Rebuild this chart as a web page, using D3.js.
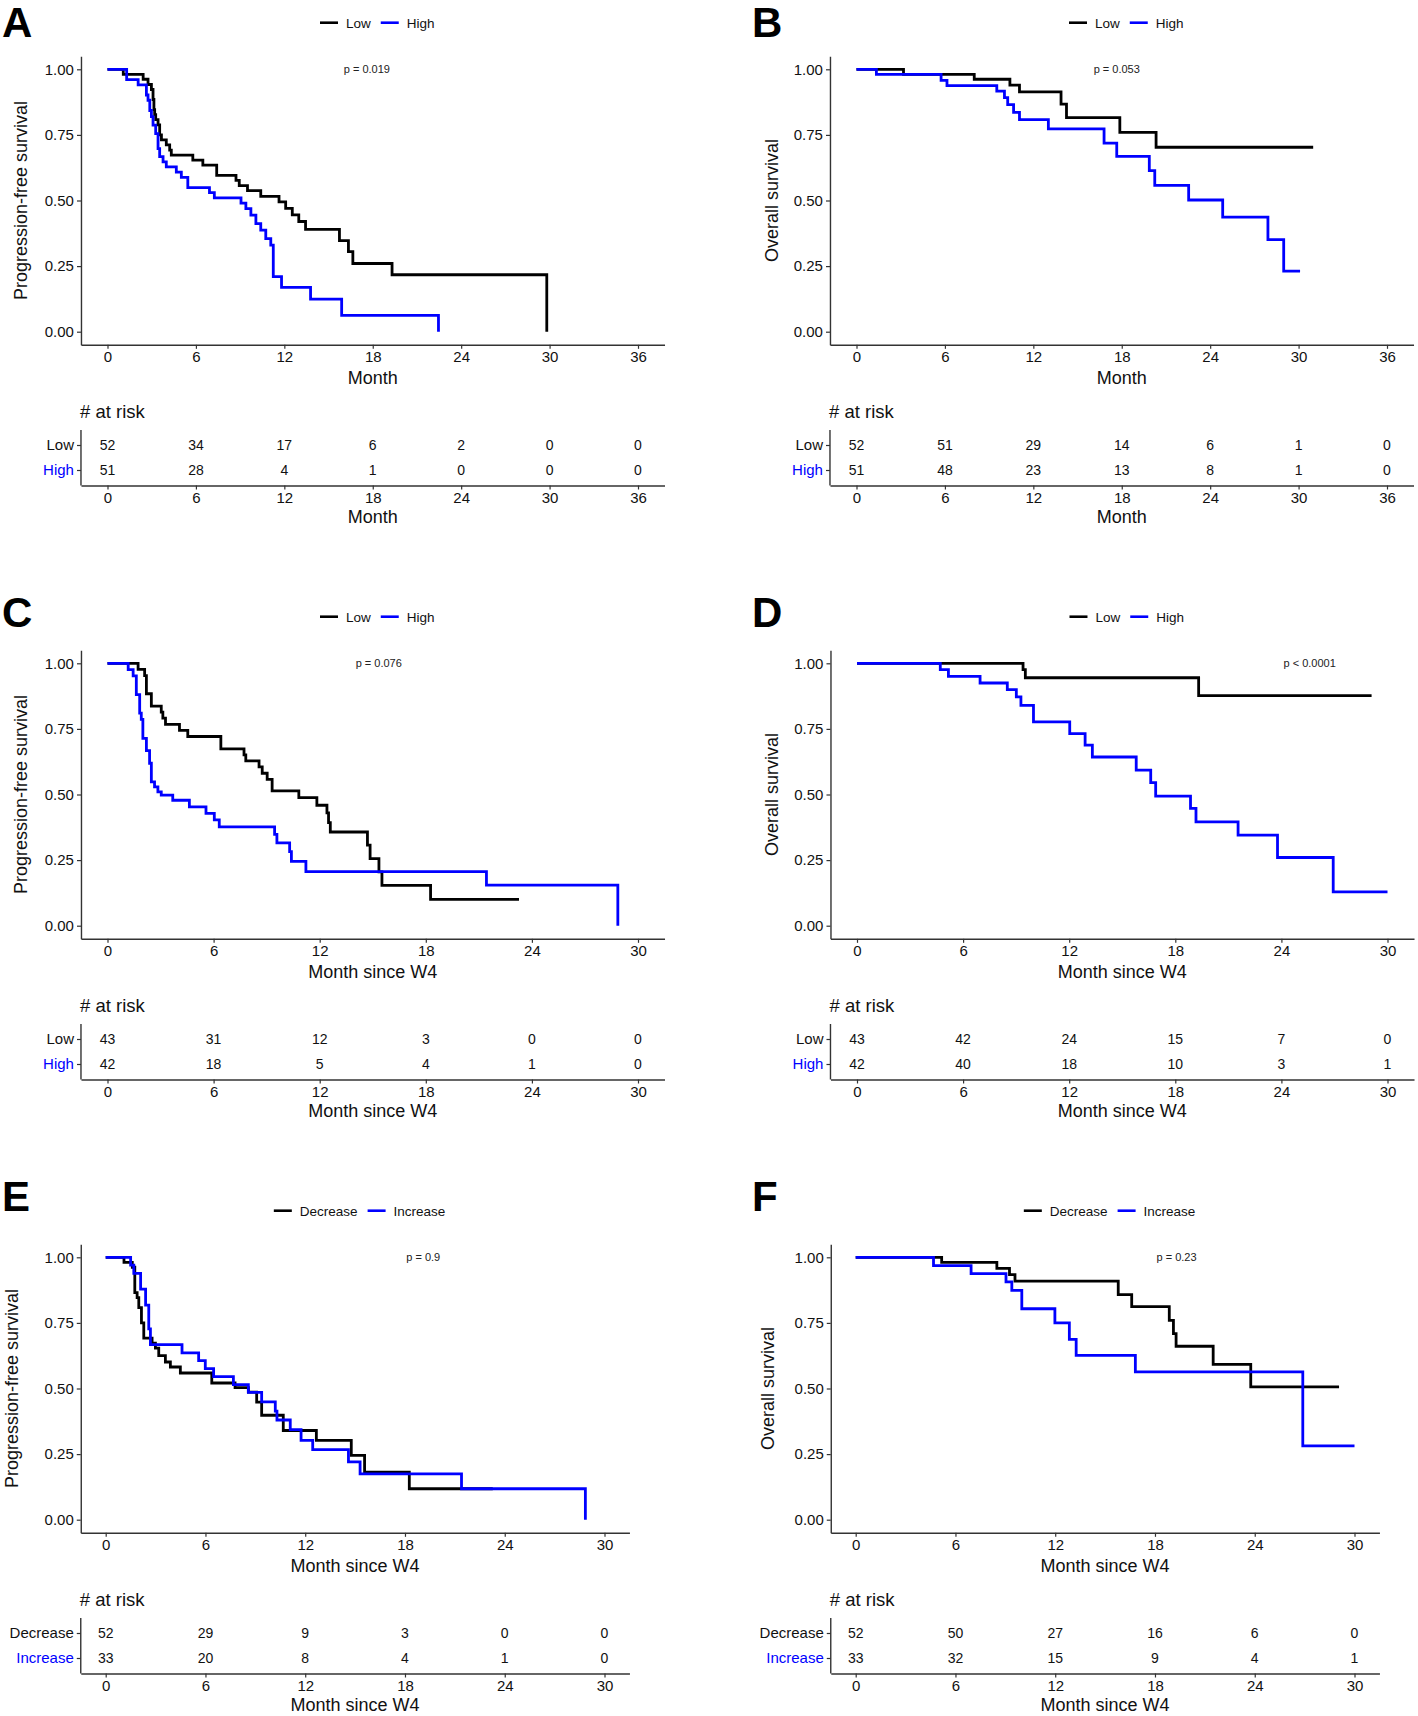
<!DOCTYPE html>
<html><head><meta charset="utf-8">
<script src="https://cdn.jsdelivr.net/npm/d3@7"></script>
<style>
body{margin:0;background:#fff}
svg{display:block}
text{font-family:"Liberation Sans",Arial,Helvetica,sans-serif}
</style>
</head><body>
<svg id="c" width="1418" height="1716"></svg>
<script>
// ---------- data ----------
const monthTicks36 = [0,6,12,18,24,30,36];
const monthTicks30 = [0,6,12,18,24,30];
const survTicks = [0,0.25,0.5,0.75,1];
const groupsLowHigh = ["Low","High"];
const groupsDecInc = ["Decrease","Increase"];
const panelLetters = ["A","B","C","D","E","F"];
const yTitles = ["Progression-free survival","Overall survival","Progression-free survival","Overall survival","Progression-free survival","Overall survival"];
const xTitles = ["Month","Month","Month since W4","Month since W4","Month since W4","Month since W4"];
const pValueLabels = ["p = 0.019","p = 0.053","p = 0.076","p < 0.0001","p = 0.9","p = 0.23"];
const pValueMonth = [17.6,17.66,15.34,25.6,19.1,19.3];

const pfsA_low = [[0,1],[1.07,0.981],[2.42,0.962],[2.75,0.942],[2.98,0.923],[3.09,0.885],[3.15,0.846],[3.2,0.827],[3.27,0.808],[3.43,0.788],[3.54,0.75],[3.66,0.731],[3.99,0.712],[4.22,0.692],[4.33,0.673],[5.79,0.654],[6.47,0.635],[7.41,0.596],[8.72,0.577],[8.94,0.557],[9.5,0.538],[10.4,0.516],[11.64,0.495],[12.09,0.47],[12.54,0.445],[12.98,0.42],[13.44,0.39],[15.74,0.347],[16.35,0.305],[16.65,0.26],[19.31,0.217],[29.81,0]];
const pfsA_high = [[0,1],[1.3,0.961],[2.08,0.941],[2.64,0.902],[2.75,0.882],[2.87,0.843],[2.98,0.82],[3.09,0.787],[3.27,0.755],[3.43,0.698],[3.54,0.667],[3.77,0.647],[3.99,0.628],[4.67,0.608],[5.01,0.588],[5.45,0.549],[6.92,0.53],[7.25,0.51],[9.06,0.49],[9.39,0.469],[9.73,0.444],[10.07,0.412],[10.4,0.387],[10.74,0.355],[11.08,0.33],[11.25,0.21],[11.81,0.169],[13.78,0.124],[15.89,0.062],[22.46,0]];

const osB_low = [[0,1],[3.19,0.981],[7.99,0.962],[10.41,0.94],[11.06,0.914],[13.88,0.867],[14.25,0.816],[17.87,0.76],[20.33,0.703],[30.99,0.703]];
const osB_high = [[0,1],[1.35,0.981],[5.74,0.958],[6.14,0.938],[9.52,0.917],[10.04,0.892],[10.26,0.865],[10.66,0.836],[11.06,0.808],[13.02,0.773],[16.8,0.719],[17.66,0.668],[19.87,0.614],[20.24,0.558],[22.54,0.502],[24.85,0.437],[27.92,0.351],[28.99,0.231],[30.1,0.231]];

const pfsC_low = [[0,1],[1.73,0.977],[2.1,0.953],[2.2,0.884],[2.48,0.837],[3.04,0.814],[3.13,0.791],[3.28,0.767],[4.07,0.744],[4.54,0.721],[6.41,0.674],[7.72,0.651],[7.82,0.628],[8.57,0.605],[8.75,0.581],[9.03,0.558],[9.31,0.514],[10.82,0.488],[11.84,0.459],[12.41,0.43],[12.5,0.393],[12.6,0.357],[14.7,0.307],[14.85,0.256],[15.35,0.205],[15.52,0.154],[18.27,0.1],[23.27,0.1]];
const pfsC_high = [[0,1],[1.17,0.976],[1.45,0.952],[1.63,0.881],[1.82,0.81],[1.91,0.786],[2.0,0.714],[2.2,0.667],[2.38,0.619],[2.48,0.548],[2.66,0.529],[2.85,0.51],[3.04,0.498],[3.69,0.478],[4.63,0.453],[5.57,0.428],[6.04,0.403],[6.32,0.377],[9.45,0.348],[9.58,0.316],[10.3,0.282],[10.4,0.245],[11.22,0.206],[21.43,0.155],[28.86,0]];

const osD_low = [[0,1],[9.39,0.976],[9.52,0.945],[19.32,0.877],[29.1,0.877]];
const osD_high = [[0,1],[4.71,0.976],[5.17,0.95],[6.96,0.925],[8.5,0.9],[9.01,0.872],[9.27,0.84],[9.98,0.777],[12.03,0.732],[12.9,0.688],[13.31,0.643],[15.79,0.593],[16.61,0.545],[16.89,0.494],[18.86,0.447],[19.17,0.396],[21.55,0.345],[23.78,0.26],[26.93,0.129],[30.0,0.129]];

const pfsE_dec = [[0,1],[1.1,0.981],[1.6,0.962],[1.75,0.865],[1.89,0.846],[1.99,0.808],[2.15,0.75],[2.29,0.692],[2.79,0.673],[2.99,0.654],[3.19,0.625],[3.59,0.601],[3.89,0.582],[4.49,0.559],[6.38,0.521],[7.78,0.503],[8.58,0.486],[9.08,0.448],[9.38,0.398],[10.68,0.34],[12.67,0.302],[14.77,0.245],[15.57,0.181],[18.26,0.118],[23.28,0.118]];
const pfsE_inc = [[0,1],[1.5,0.97],[1.69,0.939],[2.1,0.879],[2.4,0.818],[2.59,0.727],[2.69,0.667],[4.59,0.636],[5.59,0.606],[5.99,0.576],[6.49,0.545],[7.68,0.515],[8.58,0.485],[9.38,0.449],[10.2,0.414],[10.3,0.38],[11.1,0.343],[11.75,0.302],[12.45,0.267],[14.6,0.22],[15.3,0.175],[21.4,0.118],[28.85,0]];

const osF_dec = [[0,1],[5.17,0.981],[8.49,0.958],[9.25,0.934],[9.58,0.909],[15.79,0.858],[16.6,0.812],[18.86,0.76],[19.11,0.709],[19.27,0.661],[21.5,0.592],[23.76,0.506],[29.07,0.506]];
const osF_inc = [[0,1],[4.68,0.968],[6.94,0.938],[9.04,0.906],[9.39,0.874],[9.99,0.804],[11.98,0.75],[12.85,0.687],[13.26,0.626],[16.82,0.563],[26.89,0.281],[30.0,0.281]];

const riskA_low = [52,34,17,6,2,0,0];
const riskA_high = [51,28,4,1,0,0,0];
const riskB_low = [52,51,29,14,6,1,0];
const riskB_high = [51,48,23,13,8,1,0];
const riskC_low = [43,31,12,3,0,0];
const riskC_high = [42,18,5,4,1,0];
const riskD_low = [43,42,24,15,7,0];
const riskD_high = [42,40,18,10,3,1];
const riskE_dec = [52,29,9,3,0,0];
const riskE_inc = [33,20,8,4,1,0];
const riskF_dec = [52,50,27,16,6,0];
const riskF_inc = [33,32,15,9,4,1];

// ---------- layout ----------
const BLUE = "#0000ff", BLACK = "#000000", AX = "#333333", TXT = "#111111";
const rowOff = [0, 594, 1188];
const letterBase = [37, 627, 1211];
const layout = [
  {x0:107.5, x1:638,   xmax:36, ticks:monthTicks36, col:0, row:0, yTitleX:21,  groups:groupsLowHigh, curves:[pfsA_low,pfsA_high], risk:[riskA_low,riskA_high]},
  {x0:856.5, x1:1387,  xmax:36, ticks:monthTicks36, col:1, row:0, yTitleX:772, groups:groupsLowHigh, curves:[osB_low,osB_high],   risk:[riskB_low,riskB_high]},
  {x0:107.5, x1:638,   xmax:30, ticks:monthTicks30, col:0, row:1, yTitleX:21,  groups:groupsLowHigh, curves:[pfsC_low,pfsC_high], risk:[riskC_low,riskC_high]},
  {x0:857,   x1:1387.5,xmax:30, ticks:monthTicks30, col:1, row:1, yTitleX:772, groups:groupsLowHigh, curves:[osD_low,osD_high],   risk:[riskD_low,riskD_high]},
  {x0:105.7, x1:604.5, xmax:30, ticks:monthTicks30, col:0, row:2, yTitleX:11.5,groups:groupsDecInc,  curves:[pfsE_dec,pfsE_inc],  risk:[riskE_dec,riskE_inc]},
  {x0:855.7, x1:1354.5,xmax:30, ticks:monthTicks30, col:1, row:2, yTitleX:768, groups:groupsDecInc,  curves:[osF_dec,osF_inc],    risk:[riskF_dec,riskF_inc]}
];
const colors = [BLACK, BLUE];

const svg = d3.select("#c");

function styleAxis(g, fs){
  g.selectAll("path.domain").attr("stroke", AX).attr("stroke-width", 1.4);
  g.selectAll(".tick line").attr("stroke", AX).attr("stroke-width", 1.2);
  g.selectAll(".tick text").attr("fill", TXT).style("font-size", fs+"px")
    .style("font-family", '"Liberation Sans",Arial,sans-serif');
}

layout.forEach((p, i) => {
  const off = rowOff[p.row];
  const g = svg.append("g");
  const lin = d3.scaleLinear().domain([0, p.xmax]).range([p.x0, p.x1]);
  const lo = -0.05 * p.xmax, hi = 1.05 * p.xmax;
  const x = d3.scaleLinear().domain([lo, hi]).range([lin(lo), lin(hi)]);
  const y = d3.scaleLinear().domain([-0.05, 1.05]).range([331.7 + off + 0.05*262.4, 69.3 + off - 0.05*262.4]);
  const xl = x(lo), xr = x(hi), yb = y(-0.05);

  // panel letter
  g.append("text").attr("x", p.col === 0 ? 2 : 752).attr("y", letterBase[p.row])
    .text(panelLetters[i]).style("font-size", "42px").style("font-weight", "bold").attr("fill", "#000");

  // legend
  const legY = 22.7 + off;
  const leg = g.append("g");
  let cx = 0;
  p.groups.forEach((name, k) => {
    const it = leg.append("g");
    it.append("line").attr("x1", 0).attr("x2", 18).attr("y1", 0).attr("y2", 0)
      .attr("stroke", colors[k]).attr("stroke-width", 2.6);
    const t = it.append("text").attr("x", 26).attr("y", 4.8).text(name)
      .style("font-size", "13.5px").attr("fill", TXT);
    const w = t.node().getComputedTextLength();
    it.attr("transform", `translate(${cx},0)`);
    cx += 26 + w + 10;
  });
  const legW = cx - 10;
  const legCenter = (xl + xr) / 2 + 4.5;
  leg.attr("transform", `translate(${legCenter - legW/2},${legY})`);

  // main axes
  const gx = g.append("g").attr("transform", `translate(0,${yb})`)
    .call(d3.axisBottom(x).tickValues(p.ticks).tickSize(4).tickSizeOuter(0).tickPadding(3));
  styleAxis(gx, 15);
  const gy = g.append("g").attr("transform", `translate(${xl},0)`)
    .call(d3.axisLeft(y).tickValues(survTicks).tickFormat(d3.format(".2f")).tickSize(4).tickSizeOuter(0).tickPadding(3));
  styleAxis(gy, 15);

  // y title
  const yc = (y(0) + y(1)) / 2;
  g.append("text").attr("transform", `translate(${p.yTitleX},${yc}) rotate(-90)`)
    .attr("text-anchor", "middle").attr("dominant-baseline", "central")
    .text(yTitles[i]).style("font-size", "18px").attr("fill", TXT);
  // x title
  g.append("text").attr("x", (p.x0 + p.x1)/2).attr("y", yb + 39)
    .attr("text-anchor", "middle").text(xTitles[i]).style("font-size", "18px").attr("fill", TXT);

  // p value
  g.append("text").attr("x", x(pValueMonth[i])).attr("y", y(1) + 4)
    .attr("text-anchor", "middle").text(pValueLabels[i]).style("font-size", "11px").attr("fill", "#222");

  // curves
  const line = d3.line().x(d => x(d[0])).y(d => y(d[1])).curve(d3.curveStepAfter);
  p.curves.forEach((c, k) => {
    g.append("path").datum(c).attr("d", line).attr("fill", "none")
      .attr("stroke", colors[k]).attr("stroke-width", 2.8).attr("stroke-linejoin", "miter");
  });

  // risk table
  g.append("text").attr("x", xl - 1).attr("y", 418.3 + off).text("# at risk")
    .style("font-size", "18.5px").attr("fill", TXT);
  const ry = d3.scalePoint().domain(p.groups).range([445 + off, 470 + off]);
  const rTop = 430 + off, rBot = 485.5 + off;
  const gry = g.append("g").attr("transform", `translate(${xl},0)`)
    .call(d3.axisLeft(ry).tickSize(4).tickSizeOuter(0).tickPadding(3));
  gry.select("path.domain").remove();
  styleAxis(gry, 15);
  gry.selectAll(".tick text").attr("fill", (d, k) => k === 1 ? BLUE : TXT);
  g.append("line").attr("x1", xl).attr("x2", xl).attr("y1", rTop).attr("y2", rBot)
    .attr("stroke", AX).attr("stroke-width", 1.4);
  const grx = g.append("g").attr("transform", `translate(0,${rBot})`)
    .call(d3.axisBottom(x).tickValues(p.ticks).tickSize(4).tickSizeOuter(0).tickPadding(3));
  styleAxis(grx, 15);
  g.append("text").attr("x", (p.x0 + p.x1)/2).attr("y", rBot + 37.5)
    .attr("text-anchor", "middle").text(xTitles[i]).style("font-size", "18px").attr("fill", TXT);
  p.risk.forEach((vals, k) => {
    g.selectAll(null).data(vals).enter().append("text")
      .attr("x", (d, j) => x(p.ticks[j])).attr("y", ry(p.groups[k]) + 5)
      .attr("text-anchor", "middle").text(d => d)
      .style("font-size", "14px").attr("fill", TXT);
  });
});
</script>
</body></html>
